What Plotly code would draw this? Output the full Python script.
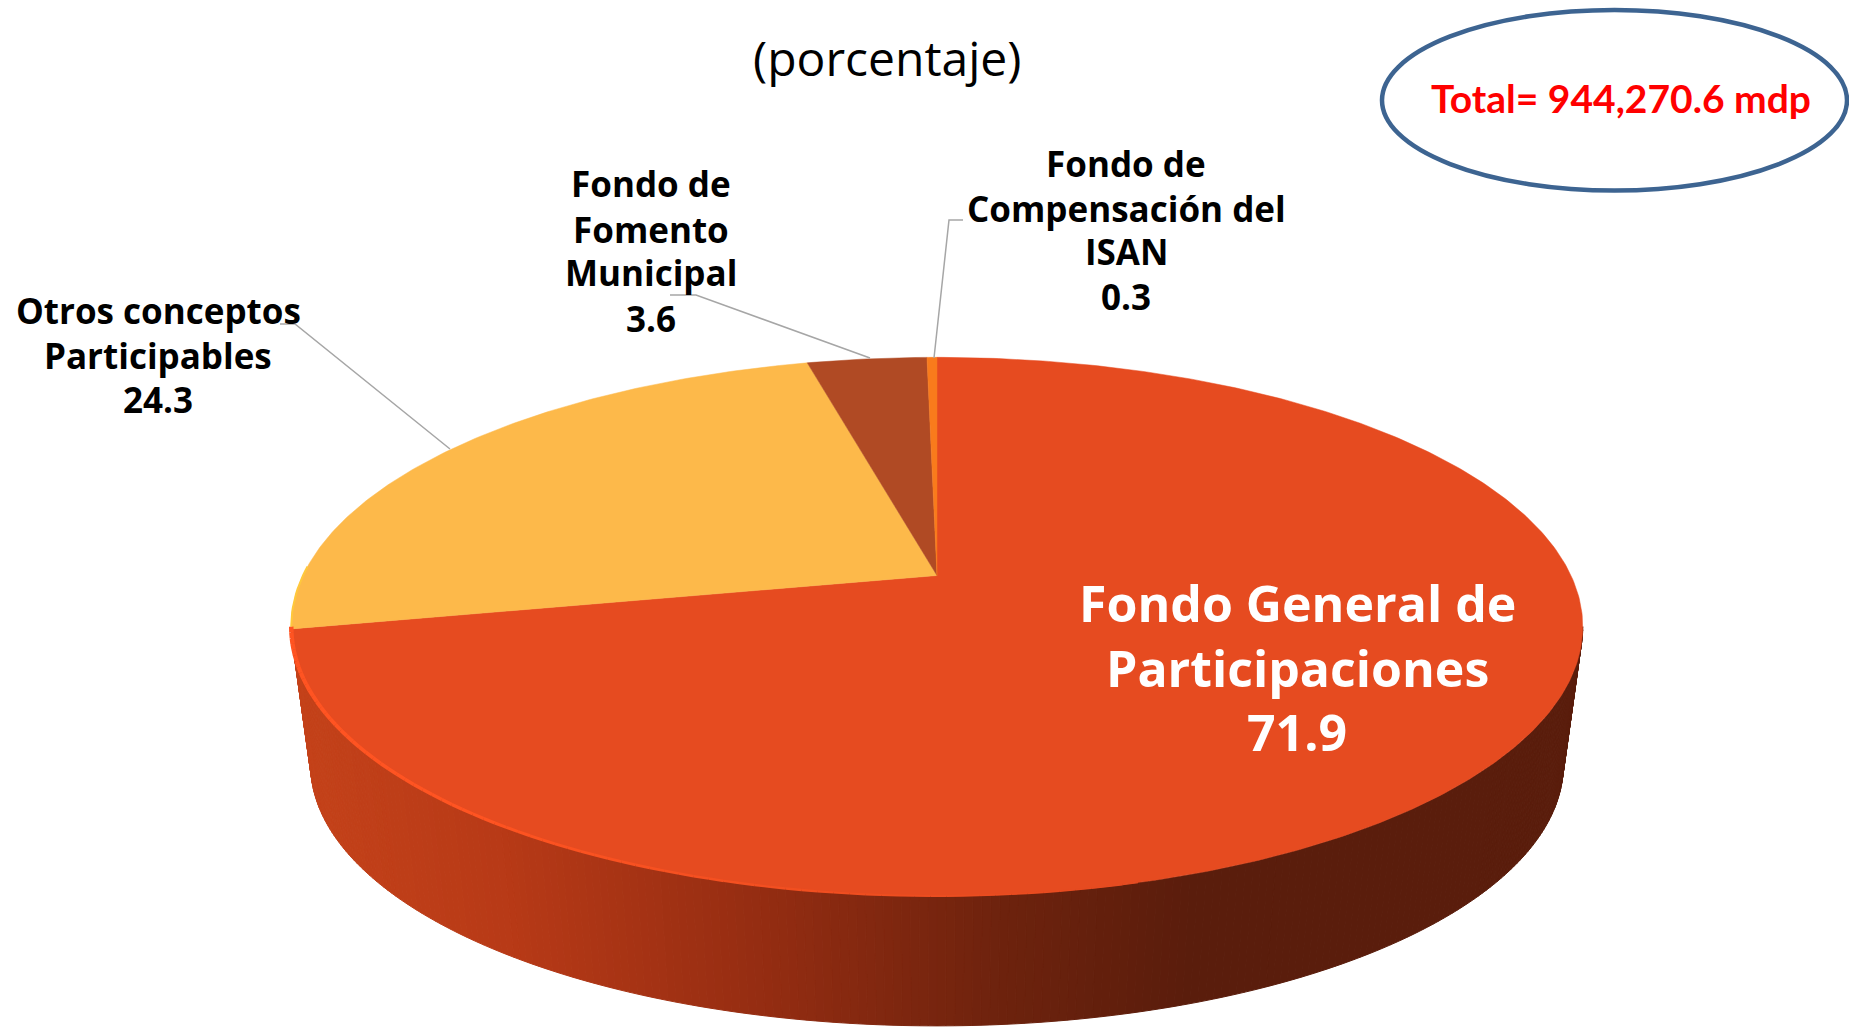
import math
import numpy as np
import plotly.graph_objects as go

# --- data -------------------------------------------------------------
categories = ["Fondo General de Participaciones", "Otros conceptos Participables",
              "Fondo de Fomento Municipal", "Fondo de Compensación del ISAN"]
values = [71.9, 24.3, 3.6, 0.3]
slice_colors = ["#E64B20", "#FDB94A", "#B04A24", "#F97B1C"]
label_lines = [["Fondo General de", "Participaciones", "71.9"],
               ["Otros conceptos", "Participables", "24.3"],
               ["Fondo de", "Fomento", "Municipal", "3.6"],
               ["Fondo de", "Compensación del", "ISAN", "0.3"]]
label_x = [1297, 158, 651, 1126]
label_y = [[603, 668, 732], [310, 355, 399], [183, 229, 272, 318], [163, 208, 251, 296]]
label_size = [50, 35, 35, 35]
label_color = ["white", "black", "black", "black"]
title_text = "(porcentaje)"
total_text = "Total= 944,270.6 mdp"

# --- pie geometry (perspective disc) ----------------------------------
W, H = 1849, 1027
CX, CY_TOP, CY_BASE = 937.0, 575.5, 715.0
K = 0.19
A_TOP, B_TOP = 634.0, 259.6
BASE_SCALE = 0.97


def top(phi):
    w = 1 + K * np.cos(phi)
    return CX + A_TOP * np.sin(phi) / w, CY_TOP - B_TOP * np.cos(phi) / w


def base(phi):
    w = 1 + K * np.cos(phi)
    return (CX + BASE_SCALE * A_TOP * np.sin(phi) / w,
            CY_BASE - BASE_SCALE * B_TOP * np.cos(phi) / w)


stops_x = [300, 500, 760, 1000, 1200]
stops_rgb = np.array([[196, 66, 26], [184, 58, 23], [149, 45, 18], [110, 35, 14], [90, 29, 12]])


def side_color(x):
    return "rgb(%d,%d,%d)" % tuple(np.interp(x, stops_x, stops_rgb[:, i]) for i in range(3))


fig = go.Figure()

# side wall, drawn as vertical strips shaded left to right
phi_r = math.acos(-K)
phi_l = 2 * math.pi - phi_r
edges = np.linspace(phi_r, phi_l, 241)
for a, b in zip(edges[:-1], edges[1:]):
    ph = np.array([a, b])
    tx, ty = top(ph)
    bx, by = base(ph)
    col = side_color(float(tx.mean()))
    fig.add_trace(go.Scatter(
        x=[tx[0], tx[1], bx[1], bx[0], tx[0]], y=[ty[0], ty[1], by[1], by[0], ty[0]],
        mode="lines", fill="toself", fillcolor=col, line=dict(color=col, width=1),
        hoverinfo="skip", showlegend=False))

# top face: slices from the values, clockwise from 12 o'clock
total = sum(values)
start = 0.0
for name, v, c in zip(categories, values, slice_colors):
    end = start + v / total * 2 * math.pi
    ph = np.linspace(start, end, max(4, int(v * 6)))
    sx, sy = top(ph)
    fig.add_trace(go.Scatter(
        x=[CX, *sx, CX], y=[CY_TOP, *sy, CY_TOP], mode="lines", fill="toself",
        fillcolor=c, line=dict(color=c, width=0.5), name=name, text=f"{name}: {v}",
        hoverinfo="text", showlegend=False))
    start = end

# bright rim on the lit front edge
rim = np.linspace(phi_l, math.radians(165), 80)
for i, (a, b) in enumerate(zip(rim[:-1], rim[1:])):
    t = i / 78
    mix = max(0.0, (t - 0.45) / 0.55)
    rgb = (255 - 25 * mix, 84 - 9 * mix, 34 - 2 * mix)
    rx, ry = top(np.array([a, b]))
    fig.add_trace(go.Scatter(x=rx, y=ry, mode="lines",
                             line=dict(color="rgb(%d,%d,%d)" % rgb, width=4.5 - 3 * t),
                             hoverinfo="skip", showlegend=False))

# faint warm edge on the left of the yellow slice
ex, ey = top(np.linspace(phi_l, math.radians(272), 14))
fig.add_trace(go.Scatter(x=ex, y=ey, mode="lines", line=dict(color="#FFC83C", width=2),
                         hoverinfo="skip", showlegend=False))

# leader lines
leaders = [([280, 295, 450], [324, 324, 449]),
           ([670, 696, 870], [295, 295, 358]),
           ([963, 949, 934], [220, 220, 358])]
for lx, ly in leaders:
    fig.add_trace(go.Scatter(x=lx, y=ly, mode="lines", line=dict(color="#A6A6A6", width=1.5),
                             hoverinfo="skip", showlegend=False))

annotations = []
for x, ys, lines, s, col in zip(label_x, label_y, label_lines, label_size, label_color):
    for y, line in zip(ys, lines):
        annotations.append(dict(x=x, y=y, text=line, showarrow=False, xanchor="center",
                                yanchor="middle",
                                font=dict(family="Open Sans", size=s, color=col, weight="bold")))
annotations.append(dict(x=887, y=57, text=title_text, showarrow=False,
                        font=dict(family="Open Sans", size=48, color="black")))
annotations.append(dict(x=1621, y=98, text=total_text, showarrow=False,
                        font=dict(family="Lato", size=39, color="#FF0000", weight="bold")))

fig.update_layout(
    width=W, height=H, margin=dict(l=0, r=0, t=0, b=0),
    paper_bgcolor="white", plot_bgcolor="white", showlegend=False,
    xaxis=dict(range=[0, W], visible=False, fixedrange=True),
    yaxis=dict(range=[H, 0], visible=False, fixedrange=True),
    annotations=annotations,
    shapes=[dict(type="circle", xref="x", yref="y", x0=1382, x1=1847, y0=10, y1=190.5,
                 line=dict(color="#3D6491", width=4.5), fillcolor="rgba(0,0,0,0)")],
)

fig.write_html("out.html", config=dict(displayModeBar=False),
               post_script="document.body.style.margin='0';document.body.style.overflow='hidden';")
